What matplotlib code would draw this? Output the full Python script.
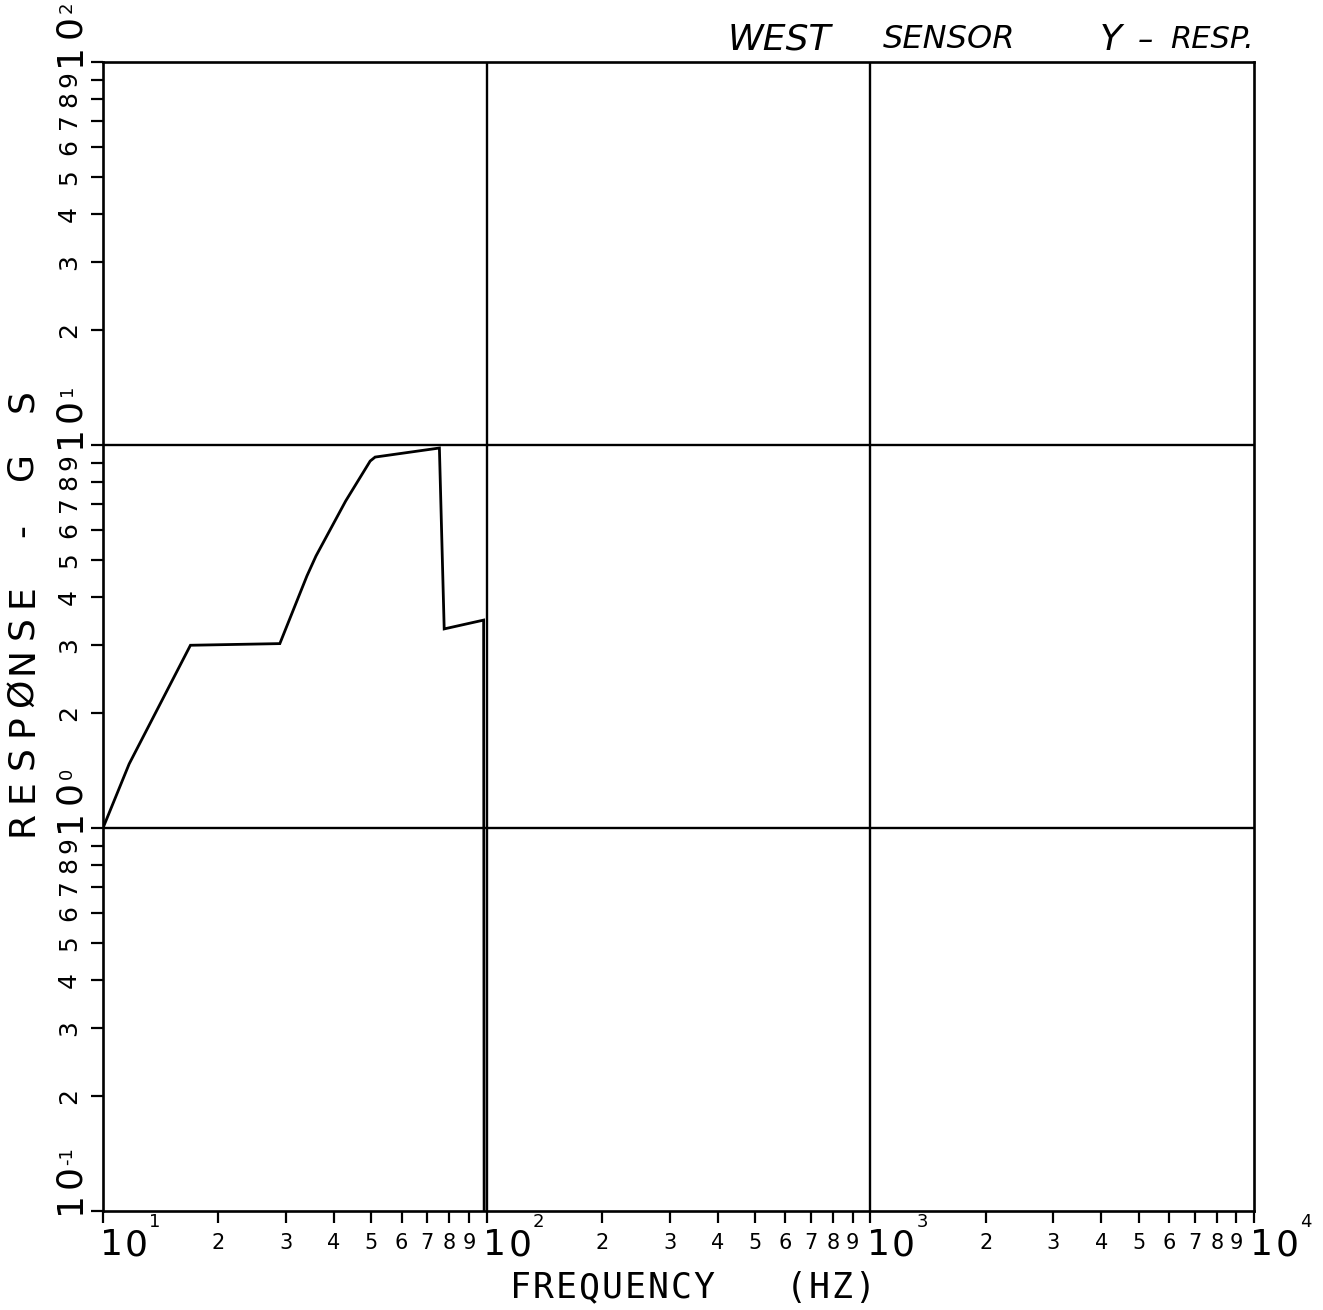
import matplotlib
matplotlib.use("Agg")
import matplotlib.pyplot as plt
from matplotlib.ticker import LogLocator, NullFormatter

# response curve, frequency (Hz) vs response (g)
freq_hz = [10.0, 11.7, 16.9, 28.9, 34.0, 35.9, 42.9, 49.7, 51.2, 75.3, 77.5, 98.2, 98.5]
resp_g = [1.0, 1.47, 3.0, 3.03, 4.55, 5.13, 7.14, 9.08, 9.3, 9.82, 3.31, 3.49, 0.1]

x_decades = [1, 2, 3, 4]
y_decades = [-1, 0, 1, 2]
minor_subs = [2, 3, 4, 5, 6, 7, 8, 9]

title_words = ["WEST", "SENSOR", "Y", "–", "RESP."]
x_label = "FREQUENCY   (HZ)"
y_label = "RESPØNSE - G S"

W, H = 1323, 1310
FONT = "DejaVu Sans"
MONO = "DejaVu Sans Mono"

fig = plt.figure(figsize=(W / 100, H / 100), dpi=100)
ax = fig.add_axes([103 / W, 1 - 1211 / H, 1151 / W, 1149 / H])

ax.plot(freq_hz, resp_g, color="black", lw=2.0, solid_joinstyle="miter")

ax.set_xscale("log")
ax.set_yscale("log")
ax.set_xlim(10 ** x_decades[0], 10 ** x_decades[-1])
ax.set_ylim(10 ** y_decades[0], 10 ** y_decades[-1])

# only the decade lines are ruled
for d in x_decades[1:-1]:
    ax.axvline(10 ** d, color="black", lw=1.7)
for d in y_decades[1:-1]:
    ax.axhline(10 ** d, color="black", lw=1.7)

for s in ax.spines.values():
    s.set_linewidth(1.9)

for axis in (ax.xaxis, ax.yaxis):
    axis.set_major_locator(LogLocator(base=10, numticks=10))
    axis.set_minor_locator(LogLocator(base=10, subs=minor_subs, numticks=20))
    axis.set_major_formatter(NullFormatter())
    axis.set_minor_formatter(NullFormatter())

ax.tick_params(which="both", direction="out", length=8.5, width=1.6,
               top=False, right=False)


def label_x(txt, xval, dx, y_px, size):
    ax.annotate(txt, xy=(xval, 0), xycoords=("data", "axes fraction"),
                xytext=(dx, -(y_px - 1211)), textcoords="offset pixels",
                ha="center", va="center", fontsize=size, family=FONT)


def label_y(txt, yval, x_px, dy, size):
    ax.annotate(txt, xy=(0, yval), xycoords=("axes fraction", "data"),
                xytext=(x_px - 103, dy), textcoords="offset pixels",
                ha="center", va="center", rotation=90, fontsize=size,
                family=FONT)


# frequency axis labels
for d in x_decades:
    label_x("1", 10 ** d, 8, 1245, 26)
    label_x("0", 10 ** d, 33, 1245, 26)
    label_x(str(d), 10 ** d, 52, 1222, 13)
    if d < x_decades[-1]:
        for s in minor_subs:
            label_x(str(s), s * 10 ** d, 0, 1243, 15)

# response axis labels, written sideways
for d in y_decades:
    label_y("1", 10 ** d, 70, 8, 26)
    label_y("0", 10 ** d, 70, 35, 26)
    label_y(str(d), 10 ** d, 67, 55, 13)
    if d < y_decades[-1]:
        for s in minor_subs:
            label_y(str(s), s * 10 ** d, 69, 0, 18)

# axis titles, one character at a time on an even pitch
for i, ch in enumerate(x_label):
    fig.text((520 + 23 * i) / W, 1 - 1288 / H, ch, ha="center", va="center",
             fontsize=25, family=MONO)
for i, ch in enumerate(y_label):
    fig.text(22 / W, 1 - (823 - 32.5 * i) / H, ch, ha="center", va="center",
             rotation=90, fontsize=26, family=FONT)

# hand-lettered heading
for word, x_px, size in zip(title_words, [728, 883, 1100, 1138, 1170],
                            [26, 23, 26, 22, 22]):
    fig.text(x_px / W, 1 - 40 / H, word, ha="left", va="center",
             fontsize=size, style="italic", family=FONT)

fig.savefig("out.png", dpi=100, facecolor="white")
